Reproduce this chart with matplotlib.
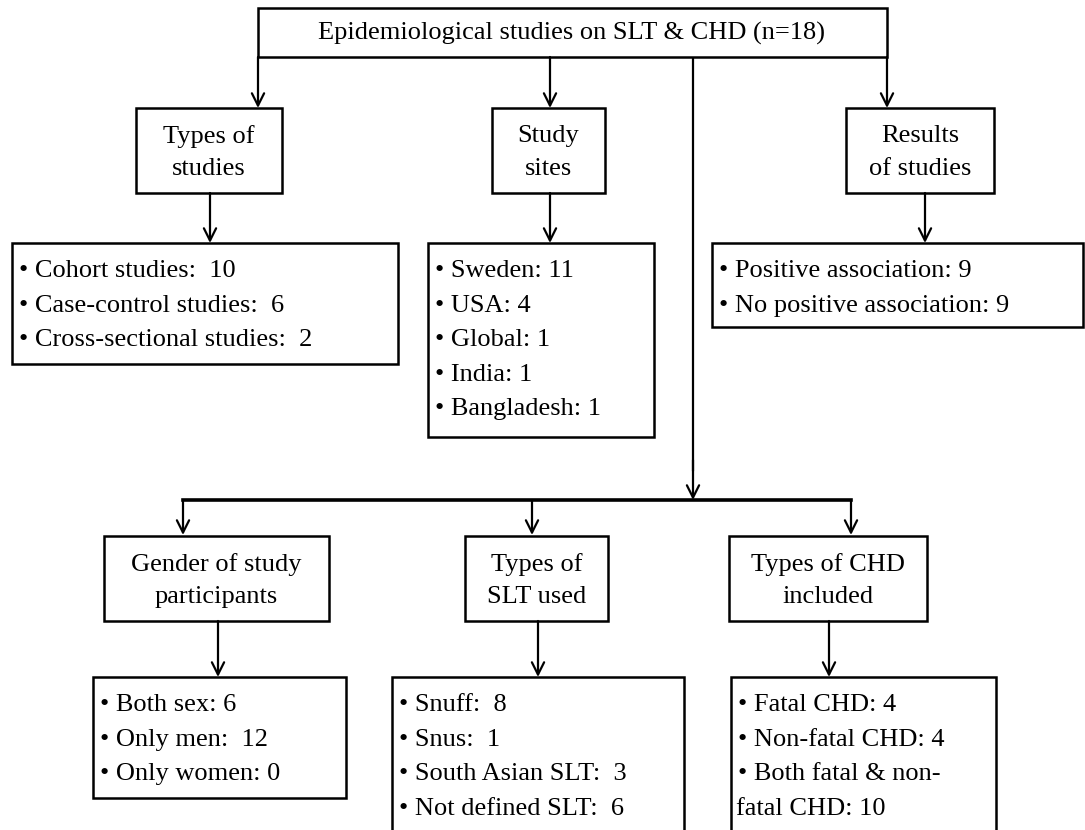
import matplotlib.pyplot as plt
from matplotlib.patches import Rectangle

plt.rcParams['font.family'] = ['Liberation Serif', 'DejaVu Serif']

title = "Epidemiological studies on SLT & CHD (n=18)"

headers = ["Types of\nstudies", "Study\nsites", "Results\nof studies",
           "Gender of study\nparticipants", "Types of\nSLT used", "Types of CHD\nincluded"]

study_types = ["Cohort studies: ", "Case-control studies: ", "Cross-sectional studies: "]
study_type_n = [10, 6, 2]
sites = ["Sweden:", "USA:", "Global:", "India:", "Bangladesh:"]
site_n = [11, 4, 1, 1, 1]
results = ["Positive association:", "No positive association:"]
result_n = [9, 9]
gender = ["Both sex:", "Only men: ", "Only women:"]
gender_n = [6, 12, 0]
slt = ["Snuff: ", "Snus: ", "South Asian SLT: ", "Not defined SLT: "]
slt_n = [8, 1, 3, 6]
chd = ["Fatal CHD:", "Non-fatal CHD:", "Both fatal & non-\nfatal CHD:"]
chd_n = [4, 4, 10]

FS = 19
LW = 1.8

fig = plt.figure(figsize=(10.85, 8.3), dpi=100)
ax = fig.add_axes([0, 0, 1, 1])
ax.set_xlim(0, 1085)
ax.set_ylim(830, 0)
ax.axis('off')


def box(x0, y0, x1, y1):
    ax.add_patch(Rectangle((x0, y0), x1 - x0, y1 - y0, fill=True, facecolor='white',
                           edgecolor='black', lw=LW, zorder=2))


def arrow(x, y0, y1):
    ax.annotate("", xy=(x, y1), xytext=(x, y0),
                arrowprops=dict(arrowstyle='->', lw=LW - 0.2, color='black',
                                mutation_scale=22, shrinkA=0, shrinkB=0), zorder=3)


def header(x0, y0, x1, y1, txt):
    box(x0, y0, x1, y1)
    ax.text((x0 + x1) / 2, (y0 + y1) / 2 + 2, txt, ha='center', va='center',
            fontsize=FS, linespacing=1.6, zorder=4)


def listbox(x0, y0, x1, y1, labels, values):
    box(x0, y0, x1, y1)
    y = y0 + 28
    for lab, v in zip(labels, values):
        parts = (lab + " " + str(v)).split("\n")
        ax.text(x0 + 7, y, "\u2022 " + parts[0], ha='left', va='center', fontsize=FS, zorder=4)
        for p in parts[1:]:
            y += 34.5
            ax.text(x0 + 5, y, p, ha='left', va='center', fontsize=FS, zorder=4)
        y += 34.5


# top box
box(258, 8, 887, 57)
ax.text(572, 33, title, ha='center', va='center', fontsize=FS, zorder=4)

# first level connectors
arrow(258, 57, 108)
arrow(550, 57, 108)
arrow(887, 57, 108)
ax.plot([693, 693], [57, 470], color='black', lw=LW - 0.2, zorder=1)
arrow(693, 460, 500)

header(136, 108, 282, 193, headers[0])
header(492, 108, 605, 193, headers[1])
header(846, 108, 994, 193, headers[2])

arrow(210, 193, 243)
arrow(550, 193, 243)
arrow(925, 193, 243)

listbox(12, 243, 398, 364, study_types, study_type_n)
listbox(428, 243, 654, 437, sites, site_n)
listbox(712, 243, 1083, 327, results, result_n)

# second branch
ax.plot([183, 851], [500, 500], color='black', lw=LW + 0.8, zorder=1)
arrow(183, 500, 535)
arrow(532, 500, 535)
arrow(851, 500, 535)

header(104, 536, 329, 621, headers[3])
header(465, 536, 608, 621, headers[4])
header(729, 536, 927, 621, headers[5])

arrow(218, 621, 677)
arrow(538, 621, 677)
arrow(829, 621, 677)

listbox(93, 677, 346, 798, gender, gender_n)
listbox(392, 677, 684, 860, slt, slt_n)
listbox(731, 677, 996, 860, chd, chd_n)

plt.savefig('out.png', dpi=100)
